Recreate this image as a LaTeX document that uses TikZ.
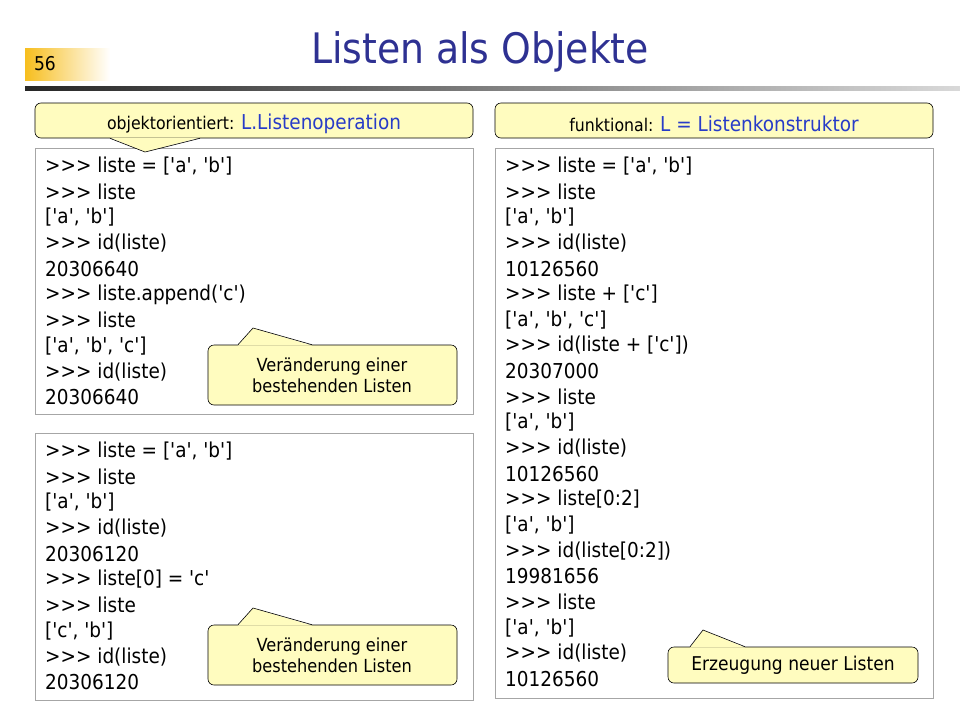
\documentclass[tikz,border=0pt]{standalone}
\usepackage{fontspec}
\setmainfont{DejaVu Sans Condensed}[Ligatures=TeXOff]
\begin{document}
\begin{tikzpicture}[x=1pt,y=-1pt,
  codebox/.style={draw=gray!70,line width=0.8pt},
  callout/.style={draw=black,fill=yellow!25,line width=0.6pt,rounded corners=6pt},
  code/.style={anchor=west,inner sep=0pt,font=\fontsize{20.5}{20}\selectfont},
  ctext/.style={align=center,font=\fontsize{18}{21}\selectfont,inner sep=0pt}]
\useasboundingbox (0,0) rectangle (960,720);
\definecolor{ttl}{RGB}{46,49,146}
\definecolor{hb}{RGB}{40,60,200}
% page number
\shade[left color={rgb,255:red,247;green,190;blue,30},right color=white] (25,48) rectangle (110,80);
\node[font=\fontsize{19}{19}\selectfont] (pg) at (45,64) {56};
\node[font=\fontsize{42}{42}\selectfont,text=ttl] (title) at (480,52) {Listen als Objekte};
\shade[left color=black!85,right color=black!15] (25,86) rectangle (960,90);
% boxes
\draw[codebox] (35,148) rectangle (473,414);
\draw[codebox] (35,433) rectangle (473,700);
\draw[codebox] (495,148) rectangle (933,698);
% headers
\draw[callout] (35,103) rectangle (473,138);
\fill[yellow!25] (110,137.5) -- (145,152) -- (200,137.5) -- cycle;
\draw[line width=0.6pt] (110,138.3) -- (145,152) -- (200,138.3);
\node[ctext,font=\fontsize{17.5}{17}\selectfont] (h1) at (254,124) {objektorientiert: {\fontsize{20.5}{20}\selectfont\color{hb}L.Listenoperation}};
\draw[callout] (495,103) rectangle (933,138);
\node[ctext,font=\fontsize{17.5}{17}\selectfont] (h2) at (714,124) {funktional: {\fontsize{20.5}{20}\selectfont\color{hb}L = Listenkonstruktor}};
% code
\foreach \t [count=\i from 0] in {{>>> liste = ['a', 'b']},{>>> liste},{['a', 'b']},{>>> id(liste)},{20306640},{>>> liste.append('c')},{>>> liste},{['a', 'b', 'c']},{>>> id(liste)},{20306640}}
  \node[code] (l1-\i) at (45,166+25.7*\i) {\t};
\foreach \t [count=\i from 0] in {{>>> liste = ['a', 'b']},{>>> liste},{['a', 'b']},{>>> id(liste)},{20306120},{>>> liste[0] = 'c'},{>>> liste},{['c', 'b']},{>>> id(liste)},{20306120}}
  \node[code] (l2-\i) at (45,451+25.7*\i) {\t};
\foreach \t [count=\i from 0] in {{>>> liste = ['a', 'b']},{>>> liste},{['a', 'b']},{>>> id(liste)},{10126560},{>>> liste + ['c']},{['a', 'b', 'c']},{>>> id(liste + ['c'])},{20307000},{>>> liste},{['a', 'b']},{>>> id(liste)},{10126560},{>>> liste[0:2]},{['a', 'b']},{>>> id(liste[0:2])},{19981656},{>>> liste},{['a', 'b']},{>>> id(liste)},{10126560}}
  \node[code] (r-\i) at (505,166+25.65*\i) {\t};
% callouts
\foreach \y/\n in {345/c1,625/c2}{
  \draw[callout] (208,\y) rectangle (457,\y+60);
  \fill[yellow!25] (238,\y+0.5) -- (253,\y-17) -- (312,\y+0.5) -- cycle;
  \draw[line width=0.6pt] (238,\y-0.3) -- (253,\y-17) -- (312,\y-0.3);
  \node[ctext] (\n) at (332,\y+30) {Veränderung einer\\bestehenden Listen};
}
\draw[callout] (668,647) rectangle (918,683);
\fill[yellow!25] (690,647.5) -- (703,630) -- (745,647.5) -- cycle;
\draw[line width=0.6pt] (690,646.7) -- (703,630) -- (745,646.7);
\node[ctext,font=\fontsize{19}{19}\selectfont] (c3) at (793,665) {Erzeugung neuer Listen};
\end{tikzpicture}
\end{document}
